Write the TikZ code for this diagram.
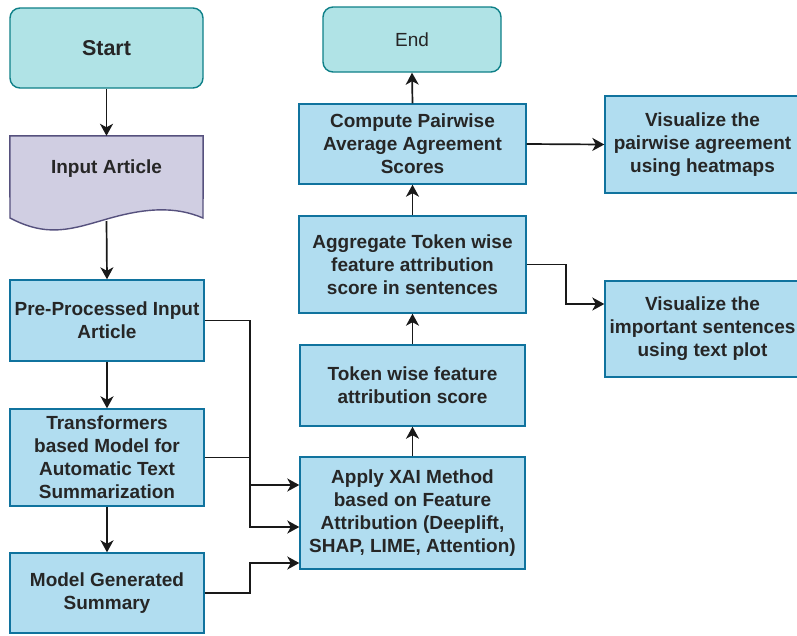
\documentclass[tikz,border=0pt]{standalone}
\usepackage{fontspec}
\setmainfont{Liberation Sans}
\usetikzlibrary{arrows.meta}
\definecolor{tealfill}{HTML}{B0E3E6}
\definecolor{tealline}{HTML}{0E8088}
\definecolor{purpfill}{HTML}{D0CEE2}
\definecolor{purpline}{HTML}{56517E}
\definecolor{bluefill}{HTML}{B1DDF0}
\definecolor{blueline}{HTML}{10739E}
\definecolor{txt}{HTML}{262626}
\tikzset{
  lbl/.style={font=\bfseries\fontsize{19}{23}\selectfont, text=txt, align=center, inner sep=0pt},
  terminal/.style={lbl, draw=tealline, fill=tealfill, line width=1.4pt, rounded corners=10pt},
  bluebox/.style={lbl, draw=blueline, fill=bluefill, line width=1.4pt},
  arr/.style={draw=black!90, line width=1.7pt, -{Stealth[length=12pt,width=13pt,inset=3.5pt]}},
}
\begin{document}
\begin{tikzpicture}[x=1pt,y=-1pt]
\clip (0,0) rectangle (797,635);
\fill[white] (0,0) rectangle (797,635);
% left column
\node[terminal, minimum width=193pt, minimum height=80pt, font=\bfseries\fontsize{21.5}{25}\selectfont] (start) at (106.5,48) {Start};
\node[lbl, minimum width=193pt, minimum height=64pt] (inp) at (106.5,168) {};
\draw[draw=purpline, fill=purpfill, line width=1.4pt]
  (inp.north west) -- (inp.north east) -- (203,218)
  .. controls (175,206) and (145,208) .. (107,219)
  .. controls (72,229) and (48,238) .. (10,218) -- cycle;
\node[lbl] at ([yshift=-1pt]inp.center) {Input Article};
\coordinate (inpb) at (106.5,221);
\node[bluebox, minimum width=194pt, minimum height=81pt] (pre) at (107,320.5) {Pre-Processed Input\\Article};
\node[bluebox, minimum width=194pt, minimum height=97pt] (trans) at (107,457.5) {Transformers\\based Model for\\Automatic Text\\Summarization};
\node[bluebox, minimum width=194pt, minimum height=80pt] (mg) at (107,593) {Model Generated\\Summary};
% middle column
\node[bluebox, minimum width=225pt, minimum height=112pt] (apply) at (412.5,513) {Apply XAI Method\\based on Feature\\Attribution (Deeplift,\\SHAP, LIME, Attention)};
\node[bluebox, minimum width=225pt, minimum height=81pt] (token) at (412.5,385.5) {Token wise feature\\attribution score};
\node[bluebox, minimum width=227pt, minimum height=97pt] (agg) at (412.5,264.5) {Aggregate Token wise\\feature attribution\\score in sentences};
\node[bluebox, minimum width=227pt, minimum height=80pt] (comp) at (412.5,144) {Compute Pairwise\\Average Agreement\\Scores};
\node[terminal, minimum width=178pt, minimum height=65pt, font=\fontsize{19}{23}\selectfont] (end) at (412,39.5) {End};
% right column
\node[bluebox, minimum width=195pt, minimum height=97pt] (vis1) at (702.5,144.5) {Visualize the\\pairwise agreement\\using heatmaps};
\node[bluebox, minimum width=195pt, minimum height=96pt] (vis2) at (702.5,329) {Visualize the\\important sentences\\using text plot};
% connectors
\draw[arr] (start.south) -- (inp.north);
\draw[arr] (inpb) -- (pre.north);
\draw[arr] (pre.south) -- (trans.north);
\draw[arr] (trans.south) -- (mg.north);
\draw[arr] (pre.east) -- ++(45,0) |- ([yshift=-14pt]apply.west);
\draw[arr] (trans.east) -- ++(45,0) |- ([yshift=28pt]apply.west);
\draw[arr] (mg.east) -- ++(45,0) |- ([yshift=-50pt]apply.west);
\draw[arr] (apply.north) -- (token.south);
\draw[arr] (token.north) -- (agg.south);
\draw[arr] (agg.north) -- (comp.south);
\draw[arr] (comp.north) -- (end.south);
\draw[arr] (comp.east) -- (vis1.west);
\draw[arr] (agg.east) -- ++(39,0) |- ([yshift=25pt]vis2.west);
\end{tikzpicture}
\end{document}
